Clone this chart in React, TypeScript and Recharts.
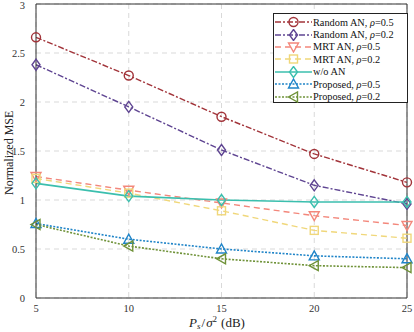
import React from "react";
import { LineChart, Line, XAxis, YAxis, CartesianGrid, ReferenceLine } from "recharts";

const snr = [5, 10, 15, 20, 25];
const randomAN05 = [2.66, 2.27, 1.85, 1.47, 1.18];
const randomAN02 = [2.38, 1.95, 1.51, 1.15, 0.96];
const mrtAN05 = [1.24, 1.1, 0.97, 0.84, 0.74];
const mrtAN02 = [1.22, 1.07, 0.89, 0.69, 0.61];
const woAN = [1.17, 1.04, 1.0, 0.98, 0.98];
const proposed05 = [0.76, 0.6, 0.5, 0.43, 0.4];
const proposed02 = [0.75, 0.53, 0.4, 0.33, 0.31];
const yTicks = [0, 0.5, 1, 1.5, 2, 2.5, 3];
const xTicks = [5, 10, 15, 20, 25];

const data = snr.map((s, i) => ({
  snr: s,
  r05: randomAN05[i],
  r02: randomAN02[i],
  m05: mrtAN05[i],
  m02: mrtAN02[i],
  wo: woAN[i],
  p05: proposed05[i],
  p02: proposed02[i],
}));

type MarkerKind = "circle" | "diamond" | "tridown" | "square" | "triup" | "trileft";

const Marker = ({ kind, cx, cy, color }: { kind: MarkerKind; cx: number; cy: number; color: string }) => {
  const r = 5;
  const common = { fill: "none", stroke: color, strokeWidth: 1.4 };
  switch (kind) {
    case "circle":
      return <circle cx={cx} cy={cy} r={r - 0.5} {...common} />;
    case "diamond":
      return <polygon points={`${cx},${cy - r - 0.5} ${cx + r - 1},${cy} ${cx},${cy + r + 0.5} ${cx - r + 1},${cy}`} {...common} />;
    case "square":
      return <rect x={cx - r + 1} y={cy - r + 1} width={2 * r - 2} height={2 * r - 2} {...common} />;
    case "tridown":
      return <polygon points={`${cx - r},${cy - r + 1} ${cx + r},${cy - r + 1} ${cx},${cy + r}`} {...common} />;
    case "triup":
      return <polygon points={`${cx - r},${cy + r - 1} ${cx + r},${cy + r - 1} ${cx},${cy - r}`} {...common} />;
    case "trileft":
      return <polygon points={`${cx + r - 1},${cy - r} ${cx + r - 1},${cy + r} ${cx - r},${cy}`} {...common} />;
  }
  return null;
};

const series = [
  { key: "r05", name: "Random AN, ", rho: "0.5", color: "#a2343a", dash: "6 2 2 2", kind: "circle" as MarkerKind, w: 1.4 },
  { key: "r02", name: "Random AN, ", rho: "0.2", color: "#5f4592", dash: "6 2 2 2", kind: "diamond" as MarkerKind, w: 1.4 },
  { key: "m05", name: "MRT AN, ", rho: "0.5", color: "#f3877b", dash: "6 4", kind: "tridown" as MarkerKind, w: 1.4 },
  { key: "m02", name: "MRT AN, ", rho: "0.2", color: "#f0d77a", dash: "6 4", kind: "square" as MarkerKind, w: 1.4 },
  { key: "wo", name: "w/o AN", rho: "", color: "#3bbfae", dash: "", kind: "diamond" as MarkerKind, w: 1.6 },
  { key: "p05", name: "Proposed, ", rho: "0.5", color: "#1f84c8", dash: "2 1.5", kind: "triup" as MarkerKind, w: 1.6 },
  { key: "p02", name: "Proposed, ", rho: "0.2", color: "#6f9238", dash: "2 1.5", kind: "trileft" as MarkerKind, w: 1.6 },
];

const font = "'Liberation Serif', 'Times New Roman', serif";

const LegendBox = () => (
  <div
    style={{
      position: "absolute",
      left: 273,
      top: 13,
      width: 135,
      height: 90,
      background: "#fff",
      border: "1px solid #222",
      boxSizing: "border-box",
      fontFamily: font,
      fontSize: 10.3,
      color: "#111",
      paddingTop: 2,
    }}
  >
    {series.map((s) => (
      <div key={s.key} style={{ display: "flex", alignItems: "center", height: 12.4 }}>
        <svg width={38} height={12} style={{ flex: "none" }}>
          <line x1={1} y1={6} x2={38} y2={6} stroke={s.color} strokeWidth={s.w} strokeDasharray={s.dash || undefined} />
          <Marker kind={s.kind} cx={19.5} cy={6} color={s.color} />
        </svg>
        <span style={{ whiteSpace: "nowrap", marginLeft: 1 }}>
          {s.name}
          {s.rho ? (
            <>
              <i>ρ</i>={s.rho}
            </>
          ) : null}
        </span>
      </div>
    ))}
  </div>
);

export default function App() {
  return (
    <div style={{ position: "absolute", left: 0, top: 0, width: 414, height: 332, background: "#fff" }}>
      <LineChart width={414} height={332} data={data} margin={{ top: 4, right: 7, left: 0, bottom: 0 }}>
        <CartesianGrid stroke="#d9d9d9" strokeDasharray="5 4" />
        <XAxis
          dataKey="snr"
          type="number"
          domain={[5, 25]}
          ticks={xTicks}
          height={34}
          tickLine={false}
          axisLine={{ stroke: "#333" }}
          tick={{ fontFamily: font, fontSize: 10.5, fill: "#333" }}
          tickMargin={1}
        />
        <YAxis
          type="number"
          domain={[0, 3]}
          ticks={yTicks}
          width={36}
          tickLine={false}
          axisLine={{ stroke: "#333" }}
          tick={{ fontFamily: font, fontSize: 10.5, fill: "#333" }}
          tickMargin={5}
          label={{
            value: "Normalized MSE",
            angle: -90,
            position: "insideLeft",
            dx: 4,
            dy: 44,
            style: { fontFamily: font, fontSize: 12, fill: "#222" },
          }}
        />
        <ReferenceLine y={3} stroke="#333" />
        <ReferenceLine x={25} stroke="#333" />
        {series.map((s) => (
          <Line
            key={s.key}
            dataKey={s.key}
            stroke={s.color}
            strokeWidth={s.w}
            strokeDasharray={s.dash || undefined}
            isAnimationActive={false}
            dot={(p: any) => <Marker key={`${s.key}-${p.index}`} kind={s.kind} cx={p.cx} cy={p.cy} color={s.color} />}
            activeDot={false}
          />
        ))}
        <text x={217} y={326.5} textAnchor="middle" fontFamily={font} fontSize={13} fill="#222">
          <tspan fontStyle="italic">P</tspan>
          <tspan fontStyle="italic" fontSize={9} dy={2.5}>s</tspan>
          <tspan dy={-2.5} dx={1}>/</tspan>
          <tspan fontStyle="italic" dx={1}>σ</tspan>
          <tspan fontSize={9} dy={-5}>2</tspan>
          <tspan dy={5} dx={4}>(dB)</tspan>
        </text>
      </LineChart>
      <LegendBox />
    </div>
  );
}
